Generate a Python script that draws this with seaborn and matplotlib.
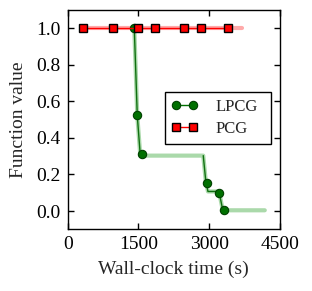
import numpy as np
import pandas as pd
import matplotlib
matplotlib.use("Agg")
import matplotlib.pyplot as plt
import seaborn as sns

# Data
lpcg_t = [1412, 1476, 1568, 2946, 3214, 3320]
lpcg_v = [1.0, 0.524, 0.312, 0.155, 0.098, 0.004]
lpcg_trace_t = [1390, 1412, 1476, 1540, 2875, 2930, 2975, 3190, 3214, 3290, 4180]
lpcg_trace_v = [1.0, 1.0, 0.52, 0.303, 0.303, 0.16, 0.107, 0.107, 0.10, 0.004, 0.004]
pcg_t = [331, 967, 1483, 1857, 2458, 2819, 3404]
pcg_v = [1.0, 1.0, 1.0, 1.0, 1.0, 1.0, 1.0]
pcg_trace_t = [300, 3700]
pcg_trace_v = [1.0, 1.0]
xticks = [0, 1500, 3000, 4500]
yticks = [0.0, 0.2, 0.4, 0.6, 0.8, 1.0]

sns.set_style("ticks")
plt.rcParams['font.family'] = ['Liberation Serif', 'DejaVu Serif']
plt.rcParams['font.size'] = 14

fig = plt.figure(figsize=(3.12, 2.91), dpi=100)
ax = fig.add_axes([0.217, 0.212, 0.68, 0.754])

# light traces
sns.lineplot(x=lpcg_trace_t, y=lpcg_trace_v, ax=ax, color='#2ca02c', alpha=0.4,
             linewidth=3, sort=False, estimator=None, legend=False)
sns.lineplot(x=pcg_trace_t, y=pcg_trace_v, ax=ax, color='#ff4444', alpha=0.45,
             linewidth=3, sort=False, estimator=None, legend=False)

# thin darker trace along the descents
sns.lineplot(x=lpcg_trace_t[:4], y=lpcg_trace_v[:4], ax=ax, color='#107010',
             linewidth=1, sort=False, estimator=None, legend=False)
sns.lineplot(x=lpcg_trace_t[4:10], y=lpcg_trace_v[4:10], ax=ax, color='#107010',
             linewidth=1, sort=False, estimator=None, legend=False)

# markers
sns.lineplot(x=lpcg_t, y=lpcg_v, ax=ax, color='#007000', linewidth=0,
             marker='o', markersize=6, markeredgecolor='#004000', markeredgewidth=0.8,
             sort=False, estimator=None, legend=False)
sns.lineplot(x=pcg_t, y=pcg_v, ax=ax, color='#ff0000', linewidth=1,
             marker='s', markersize=6, markerfacecolor='#ff0000',
             markeredgecolor='black', markeredgewidth=1,
             sort=False, estimator=None, label='PCG')

# legend handles
from matplotlib.lines import Line2D
h_lpcg = Line2D([], [], color='#007000', linewidth=1, marker='o', markersize=6,
                markeredgecolor='#004000', markeredgewidth=0.8)
h_pcg = Line2D([], [], color='#ff0000', linewidth=1, marker='s', markersize=6,
               markerfacecolor='#ff0000', markeredgecolor='black', markeredgewidth=1)

ax.set_xlim(0, 4500)
ax.set_ylim(-0.1, 1.1)
ax.set_xticks(xticks)
ax.set_xticklabels([str(t) for t in xticks])
ax.set_yticks(yticks)
ax.set_yticklabels([f"{t:.1f}" for t in yticks])
ax.tick_params(direction='in', top=True, right=True, length=4, width=1,
               labelsize=14, pad=5, colors='black')
for s in ax.spines.values():
    s.set_linewidth(1)
    s.set_color('black')
ax.set_xlabel('Wall-clock time (s)', fontsize=14, labelpad=5)
ax.set_ylabel('Function value', fontsize=14, labelpad=7)

leg = ax.legend([h_lpcg, h_pcg], ['LPCG', 'PCG'],
                loc='center', bbox_to_anchor=(0.457, 0.385, 0.5, 0.245), mode='expand',
                numpoints=2, frameon=True, fancybox=False, framealpha=1,
                edgecolor='black', fontsize=12, handlelength=1.6, borderpad=0.4,
                labelspacing=0.4, handletextpad=1.05, borderaxespad=0)
leg.get_frame().set_linewidth(1)

fig.savefig('out.png', dpi=100)
